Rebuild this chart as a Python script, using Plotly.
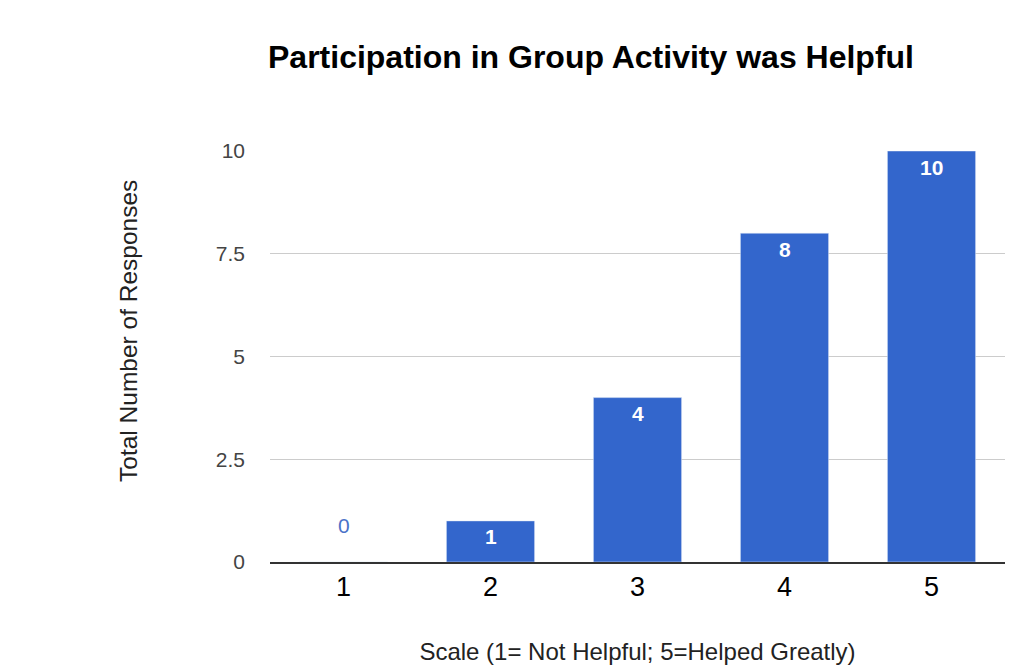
import plotly.graph_objects as go

categories = ["1", "2", "3", "4", "5"]
responses = [0, 1, 4, 8, 10]
y_ticks = [0, 2.5, 5, 7.5, 10]
y_tick_labels = ["0", "2.5", "5", "7.5", "10"]

BAR = "#3366CC"
FONT = "Arial, Liberation Sans, sans-serif"

fig = go.Figure()
fig.add_trace(go.Bar(
    x=categories, y=responses, marker_color=BAR, width=0.6,
    hoverinfo="x+y",
))

for i, v in enumerate(responses):
    fig.add_annotation(
        x=i, y=v, text=(f"<b>{v}</b>" if v > 0 else str(v)), showarrow=False,
        yanchor="middle", yshift=(-16 if v > 0 else 37),
        font=dict(family=FONT, size=21, color="white" if v > 0 else "#4a72c8"),
    )

fig.add_annotation(
    xref="paper", yref="paper", x=(128 - 270) / 735, y=(562 - 331) / 411,
    text="Total Number of Responses", textangle=-90, showarrow=False,
    xanchor="center", yanchor="middle",
    font=dict(family=FONT, size=24.5, color="#222222"),
)

fig.update_layout(
    width=1014, height=665,
    margin=dict(l=270, r=9, t=151, b=103),
    paper_bgcolor="white", plot_bgcolor="white",
    showlegend=False,
    font=dict(family=FONT),
    title=dict(
        text="<b>Participation in Group Activity was Helpful</b>",
        x=591 / 1014, xanchor="center", y=1 - 57 / 665, yanchor="middle",
        font=dict(family=FONT, size=32, color="black"),
    ),
    bargap=0.4,
)
fig.update_xaxes(
    type="category", showgrid=False, ticks="", showline=True,
    linecolor="#333333", linewidth=2, range=[-0.5, 4.5], automargin=False,
    tickfont=dict(family=FONT, size=27, color="black"),
    title=dict(text="Scale (1= Not Helpful; 5=Helped Greatly)", standoff=44,
               font=dict(family=FONT, size=24, color="#222222")),
)
fig.update_yaxes(
    range=[0, 10], tickvals=y_ticks, ticktext=y_tick_labels, automargin=False,
    showgrid=True, gridcolor="#cccccc", gridwidth=1, zeroline=False,
    ticks="", ticklabelstandoff=24,
    tickfont=dict(family=FONT, size=21, color="#444444"),
)

fig.write_html("out.html")
